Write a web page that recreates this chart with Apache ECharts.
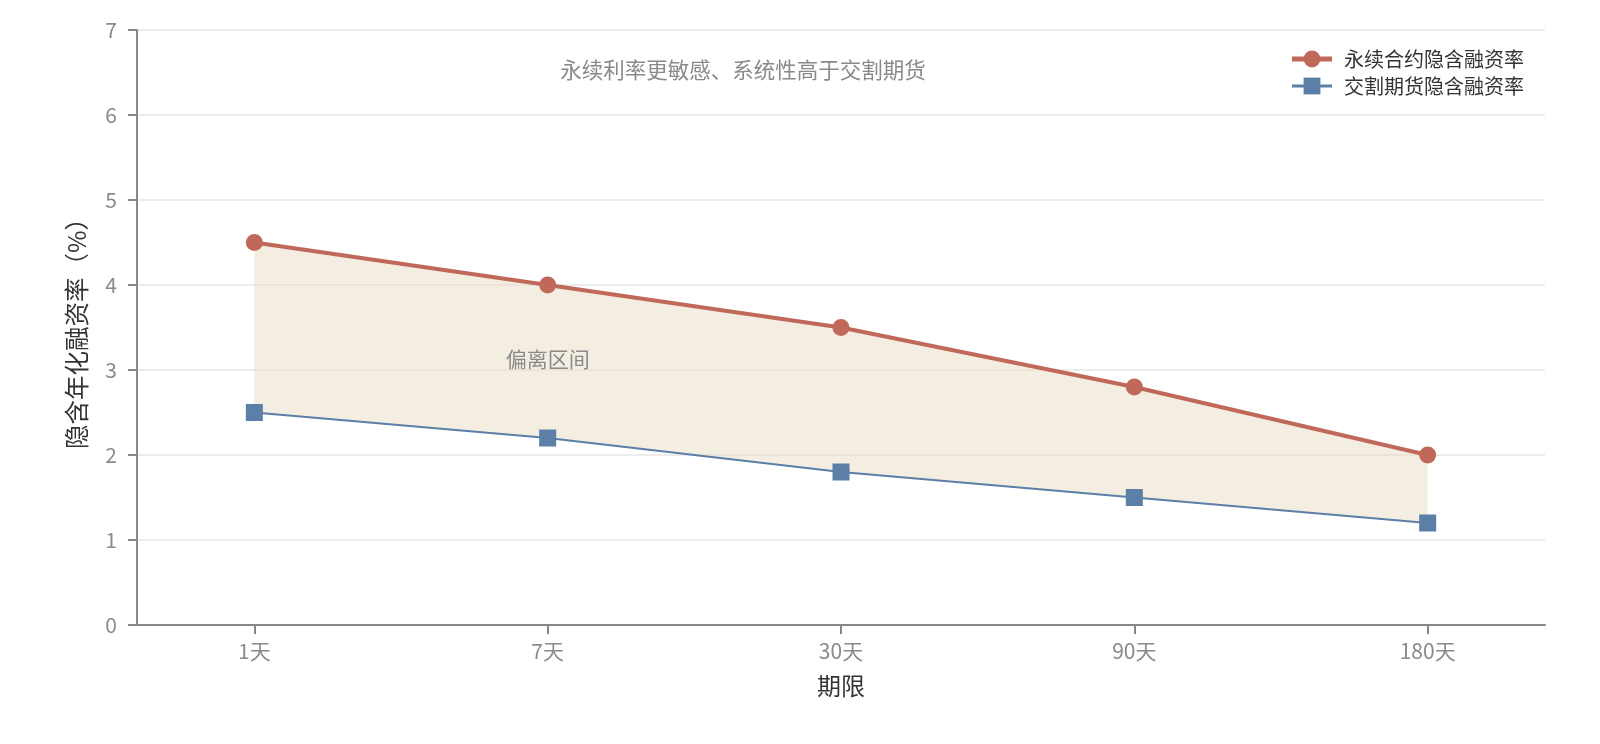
<!DOCTYPE html>
<html>
<head>
<meta charset="utf-8">
<script src="https://cdn.jsdelivr.net/npm/echarts@6/dist/echarts.min.js"></script>
<style>
  html, body { margin: 0; padding: 0; background: #fff; }
  #main { width: 1600px; height: 744px; }
</style>
</head>
<body>
<div id="main"></div>
<script>
// 期限（横轴类目）
const categories = ['1天', '7天', '30天', '90天', '180天'];
// 永续合约隐含融资率（%）
const perpRates = [4.5, 4.0, 3.5, 2.8, 2.0];
// 交割期货隐含融资率（%）
const futuresRates = [2.5, 2.2, 1.8, 1.5, 1.2];
// 纵轴刻度
const yTicks = [0, 1, 2, 3, 4, 5, 6, 7];

const perpName = '永续合约隐含融资率';
const futName = '交割期货隐含融资率';
const font = '"Noto Sans CJK SC", "Noto Sans", sans-serif';
const red = '#c0695a';
const blue = '#5b7fa6';

// 横轴用数值轴，类目位置取下标，两端留白和原图一致
const idx = categories.map((_, i) => i);
const toPoints = arr => arr.map((v, i) => [i, v]);

// 两条线之间的偏离区间，用 custom 系列画一个多边形
function renderBand(params, api) {
  if (params.dataIndex !== 0) return null;
  const upper = perpRates.map((v, i) => api.coord([i, v]));
  const lower = futuresRates.map((v, i) => api.coord([i, v])).reverse();
  const labelPos = api.coord([1, 3.13]);
  return {
    type: 'group',
    children: [
      {
        type: 'polygon',
        shape: { points: upper.concat(lower) },
        style: { fill: 'rgba(232, 221, 196, 0.5)' }
      },
      {
        type: 'text',
        x: labelPos[0], y: labelPos[1],
        style: {
          text: '偏离区间',
          font: '21px ' + font,
          fill: '#8a8a8a',
          align: 'center',
          verticalAlign: 'middle'
        }
      }
    ]
  };
}

const chart = echarts.init(document.getElementById('main'));
chart.setOption({
  animation: false,
  textStyle: { fontFamily: font },
  grid: { left: 137, right: 55, top: 30, bottom: 119 },
  graphic: [{
    type: 'text',
    x: 743, y: 70,
    style: {
      text: '永续利率更敏感、系统性高于交割期货',
      font: '21.5px ' + font,
      fill: '#8a8a8a',
      align: 'center',
      verticalAlign: 'middle'
    }
  }],
  legend: {
    data: [
      { name: perpName, lineStyle: { width: 5 } },
      { name: futName, lineStyle: { width: 3 } }
    ],
    orient: 'vertical',
    right: 71,
    top: 44,
    itemWidth: 40,
    itemHeight: 21,
    itemGap: 7,
    textStyle: { fontSize: 20, color: '#333', fontFamily: font, padding: [0, 0, 0, 7] }
  },
  xAxis: {
    type: 'value',
    min: -0.4,
    max: 4.4,
    name: '期限',
    nameLocation: 'middle',
    nameGap: 49,
    nameTextStyle: { fontSize: 24, color: '#333' },
    axisLine: { lineStyle: { color: '#888', width: 2 } },
    axisTick: { show: true, customValues: idx, length: 9, lineStyle: { color: '#888', width: 2 } },
    axisLabel: {
      customValues: idx,
      formatter: v => categories[Math.round(v)] || '',
      fontSize: 21, color: '#8a8a8a', margin: 16
    },
    splitLine: { show: false }
  },
  yAxis: {
    type: 'value',
    min: yTicks[0],
    max: yTicks[yTicks.length - 1],
    interval: 1,
    name: '隐含年化融资率（%）',
    nameLocation: 'middle',
    nameGap: 48,
    nameTextStyle: { fontSize: 24.5, color: '#333' },
    axisLine: { show: true, onZero: false, lineStyle: { color: '#888', width: 2 } },
    axisTick: { show: true, length: 9, lineStyle: { color: '#888', width: 2 } },
    axisLabel: { fontSize: 21, color: '#8a8a8a', margin: 20 },
    splitLine: { lineStyle: { color: '#e6e6e6', width: 1.5 } }
  },
  series: [
    {
      name: 'band',
      type: 'custom',
      silent: true,
      renderItem: renderBand,
      data: toPoints(perpRates),
      encode: { x: 0, y: 1 },
      z: 1
    },
    {
      name: perpName,
      type: 'line',
      data: toPoints(perpRates),
      symbol: 'circle',
      symbolSize: 17,
      itemStyle: { color: red },
      lineStyle: { color: red, width: 4 },
      z: 4
    },
    {
      name: futName,
      type: 'line',
      data: toPoints(futuresRates),
      symbol: 'rect',
      symbolSize: 17,
      itemStyle: { color: blue },
      lineStyle: { color: blue, width: 2 },
      z: 3
    }
  ]
});
</script>
</body>
</html>
